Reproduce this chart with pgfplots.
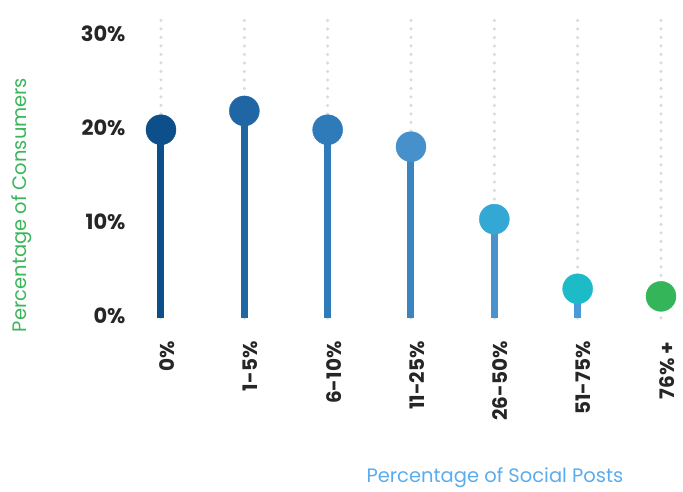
\documentclass[border=0pt]{standalone}
\usepackage{pgfplots}
\pgfplotsset{compat=1.18}
\usepackage{fontspec}
\setmainfont{Poppins}
\definecolor{c0}{HTML}{0D4F8B}
\definecolor{c1}{HTML}{2166A4}
\definecolor{c2}{HTML}{2F7BBA}
\definecolor{c3}{HTML}{4690CC}
\definecolor{s3}{HTML}{3A84C2}
\definecolor{c4}{HTML}{34A8D4}
\definecolor{s4}{HTML}{4A92CE}
\definecolor{c5}{HTML}{1DBAC8}
\definecolor{s5}{HTML}{4A9AD8}
\definecolor{c6}{HTML}{35B55A}
\definecolor{gridgray}{HTML}{D8DCDF}
\definecolor{ylab}{HTML}{3BB55B}
\definecolor{xlab}{HTML}{5BACEE}
\begin{document}
\begin{tikzpicture}
  \begin{axis}[
    scale only axis, width=500pt, height=304pt,
    xmin=0, xmax=6, ymin=0, ymax=32.3,
    clip=false,
    axis line style={draw=none},
    major tick length=0pt,
    xtick={0,1,2,3,4,5,6},
    xticklabels={0\%,1-5\%,6-10\%,11-25\%,26-50\%,51-75\%,76\% +},
    x tick label style={rotate=90, anchor=east, xshift=-20pt, yshift=-6pt,
      font=\bfseries\fontsize{20}{20}\selectfont, text=black!85},
    ytick={0,10,20,30},
    yticklabels={0\%,10\%,20\%,30\%},
    y tick label style={xshift=-32pt, yshift=2pt,
      font=\bfseries\fontsize{21}{21}\selectfont, text=black!85},
    xmajorgrids,
    grid style={gridgray, line width=3.5pt, line cap=round, dash pattern=on 0pt off 8.5pt},
    xlabel={Percentage of Social Posts},
    ylabel={Percentage of Consumers},
    xlabel style={at={(axis description cs:0.668,-0.526)}, anchor=center,
      font=\fontsize{19.5}{19.5}\selectfont, text=xlab},
    ylabel style={at={(axis description cs:-0.278,0.372)}, anchor=center,
      font=\fontsize{19.5}{19.5}\selectfont, text=ylab},
  ]
    % stems
    \addplot[ycomb, draw=c0, line width=7pt, mark=none] coordinates {(0,20)};
    \addplot[ycomb, draw=c1, line width=7pt, mark=none] coordinates {(1,22)};
    \addplot[ycomb, draw=c2, line width=7pt, mark=none] coordinates {(2,20)};
    \addplot[ycomb, draw=s3, line width=7pt, mark=none] coordinates {(3,18.2)};
    \addplot[ycomb, draw=s4, line width=7pt, mark=none] coordinates {(4,10.5)};
    \addplot[ycomb, draw=s5, line width=7pt, mark=none] coordinates {(5,3.1)};
    % heads
    \addplot[only marks, mark=*, mark size=15pt, c0] coordinates {(0,20)};
    \addplot[only marks, mark=*, mark size=15pt, c1] coordinates {(1,22)};
    \addplot[only marks, mark=*, mark size=15pt, c2] coordinates {(2,20)};
    \addplot[only marks, mark=*, mark size=15pt, c3] coordinates {(3,18.2)};
    \addplot[only marks, mark=*, mark size=15pt, c4] coordinates {(4,10.5)};
    \addplot[only marks, mark=*, mark size=15pt, c5] coordinates {(5,3.1)};
    \addplot[only marks, mark=*, mark size=15pt, c6] coordinates {(6,2.3)};
  \end{axis}
  \path[use as bounding box] (-161pt,-171pt) rectangle (522pt,318pt);
\end{tikzpicture}
\end{document}
